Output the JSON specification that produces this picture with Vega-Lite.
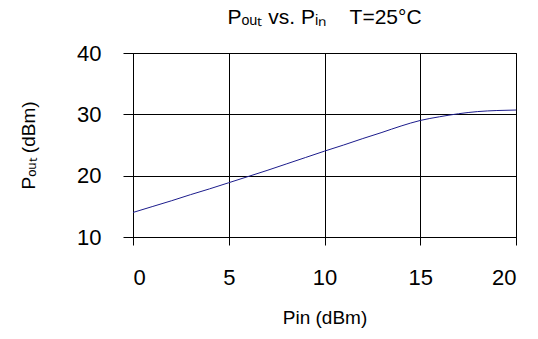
{
  "$schema": "https://vega.github.io/schema/vega-lite/v6.json",
  "width": 383,
  "height": 184,
  "autosize": "none",
  "padding": {"left": 133, "top": 53, "right": 22, "bottom": 102},
  "background": "white",
  "title": {
    "text": "Pₒᵤₜ vs. Pᵢₙ\u00a0\u00a0\u00a0\u00a0T=25°C",
    "font": "Liberation Sans",
    "fontSize": 21,
    "fontWeight": "normal",
    "color": "black",
    "anchor": "middle",
    "frame": "group",
    "baseline": "alphabetic",
    "offset": 2,
    "dy": 5
  },
  "config": {
    "view": {"stroke": "black", "strokeWidth": 1},
    "axis": {
      "labelFont": "Liberation Sans",
      "titleFont": "Liberation Sans",
      "labelColor": "black",
      "titleColor": "black",
      "titleFontWeight": "normal",
      "domainColor": "black",
      "tickColor": "black",
      "gridColor": "black",
      "gridOpacity": 1,
      "gridWidth": 1
    }
  },
  "data": {
    "values": [
      {"pin": 0, "pout": 14.0},
      {"pin": 1, "pout": 14.95},
      {"pin": 2, "pout": 15.9},
      {"pin": 3, "pout": 16.9},
      {"pin": 4, "pout": 17.85},
      {"pin": 5, "pout": 18.85},
      {"pin": 6, "pout": 19.85},
      {"pin": 7, "pout": 20.85},
      {"pin": 8, "pout": 21.9},
      {"pin": 9, "pout": 22.95},
      {"pin": 10, "pout": 24.0},
      {"pin": 11, "pout": 25.0},
      {"pin": 12, "pout": 26.05},
      {"pin": 13, "pout": 27.05},
      {"pin": 14, "pout": 28.1},
      {"pin": 15, "pout": 29.0},
      {"pin": 16, "pout": 29.6},
      {"pin": 17, "pout": 30.1},
      {"pin": 18, "pout": 30.45},
      {"pin": 19, "pout": 30.62},
      {"pin": 20, "pout": 30.7}
    ]
  },
  "mark": {"type": "line", "color": "#1c1c8c", "strokeWidth": 1, "interpolate": "monotone"},
  "encoding": {
    "x": {
      "field": "pin",
      "type": "quantitative",
      "scale": {"domain": [0, 20], "nice": false, "zero": false},
      "axis": {
        "values": [0, 5, 10, 15, 20],
        "title": "Pin (dBm)",
        "titleFontSize": 19,
        "labelFontSize": 22,
        "tickSize": 8,
        "labelPadding": 22,
        "titlePadding": 20,
        "grid": true
      }
    },
    "y": {
      "field": "pout",
      "type": "quantitative",
      "scale": {"domain": [10, 40], "nice": false, "zero": false},
      "axis": {
        "values": [10, 20, 30, 40],
        "title": "Pₒᵤₜ (dBm)",
        "titleFontSize": 19,
        "labelFontSize": 22,
        "tickSize": 10,
        "labelPadding": 22,
        "titlePadding": 38,
        "grid": true
      }
    }
  }
}
